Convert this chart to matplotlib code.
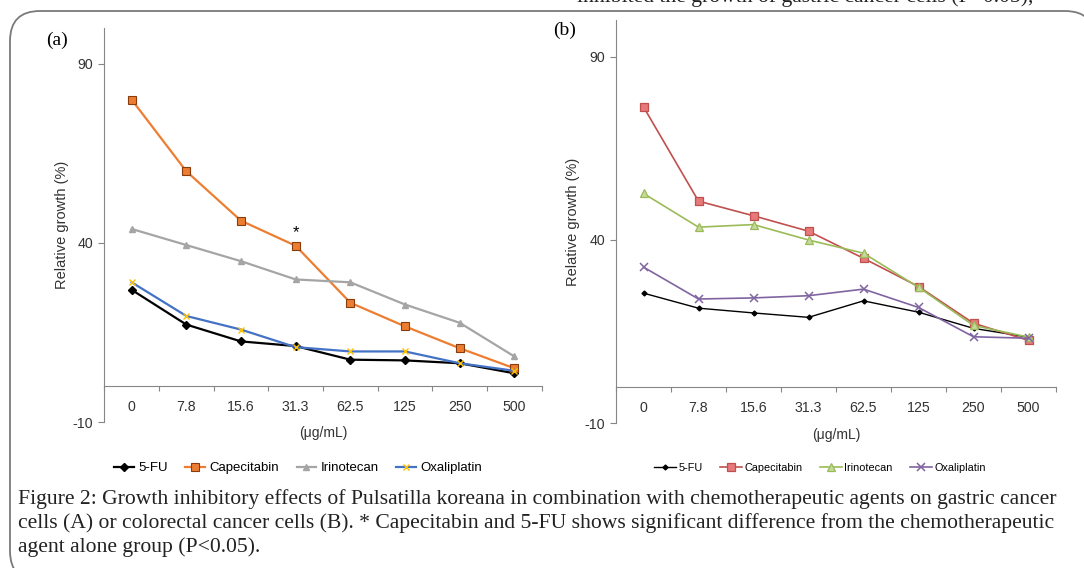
import matplotlib
matplotlib.use('Agg')
import matplotlib.pyplot as plt
from matplotlib.patches import FancyBboxPatch

# dose categories (x axis)
doses = ['0', '7.8', '15.6', '31.3', '62.5', '125', '250', '500']
series_names = ['5-FU', 'Capecitabin', 'Irinotecan', 'Oxaliplatin']

# panel (a): gastric cancer cells
a_5fu = [26.9, 17.2, 12.5, 11.2, 7.4, 7.2, 6.4, 3.6]
a_cape = [80.0, 60.0, 46.2, 39.2, 23.3, 16.7, 10.6, 5.0]
a_irino = [43.9, 39.4, 34.9, 29.8, 29.0, 22.8, 17.7, 8.3]
a_oxali = [29.0, 19.6, 15.8, 10.9, 9.7, 9.7, 6.4, 4.3]

# panel (b): colorectal cancer cells
b_5fu = [25.5, 21.4, 20.1, 18.9, 23.4, 20.3, 15.9, 13.5]
b_cape = [76.3, 50.6, 46.6, 42.4, 35.0, 27.3, 17.3, 12.6]
b_irino = [52.7, 43.5, 44.2, 40.0, 36.4, 27.1, 16.7, 13.5]
b_oxali = [32.6, 23.9, 24.2, 24.8, 26.6, 21.6, 13.6, 13.2]

yticks = [-10, 40, 90]
sig_index = 3  # 31.3 ug/mL, Capecitabin (a)

caption = [
    "Figure 2: Growth inhibitory effects of Pulsatilla koreana in combination with chemotherapeutic agents on gastric cancer",
    "cells (A) or colorectal cancer cells (B). * Capecitabin and 5-FU shows significant difference from the chemotherapeutic",
    "agent alone group (P<0.05).",
]
top_text = "inhibited the growth of gastric cancer cells (P<0.05),"

SANS = 'Liberation Sans'
SERIF = 'Liberation Serif'
W, H = 1084, 568

plt.rcParams['font.family'] = SANS
plt.rcParams['axes.unicode_minus'] = False

fig = plt.figure(figsize=(W / 100, H / 100), dpi=100)

# background layer in pixel coordinates: frame + caption
bg = fig.add_axes([0, 0, 1, 1], zorder=-1)
bg.set_xlim(0, W)
bg.set_ylim(H, 0)
bg.axis('off')
frame = FancyBboxPatch((10, 11), 1085, 570, boxstyle='round,pad=0,rounding_size=30',
                       facecolor='white', edgecolor='#7a7a7a', linewidth=1.3)
bg.add_patch(frame)
bg.text(577, 2, top_text, fontsize=15.6, family=SERIF, color='#222222', va='baseline', ha='left')
for i, line in enumerate(caption):
    bg.text(18, 499 + 24 * i, line, fontsize=15.6, family=SERIF, color='#222222',
            va='center', ha='left')
bg.text(46, 40, '(a)', fontsize=14, family=SERIF, va='center', ha='left')
bg.text(553, 30, '(b)', fontsize=14, family=SERIF, va='center', ha='left')


def style_axes(ax, xlab_y):
    x = range(len(doses))
    ax.set_xlim(-0.5, len(doses) - 0.5)
    ax.set_ylim(-10, 100)
    for s in ['top', 'right']:
        ax.spines[s].set_visible(False)
    ax.spines['left'].set_color('#868686')
    ax.spines['bottom'].set_color('#868686')
    ax.spines['bottom'].set_position(('data', 0))
    ax.set_yticks(yticks)
    ax.tick_params(axis='y', length=4, width=0.8, color='#868686', pad=4,
                   labelsize=10.2, labelcolor='#333333')
    ax.set_xticks(list(x))
    ax.set_xticklabels(doses, fontsize=10.2, color='#333333')
    ax.set_xticks([i + 0.5 for i in range(-1, len(doses))], minor=True)
    ax.tick_params(axis='x', which='major', length=0, pad=10)
    ax.tick_params(axis='x', which='minor', length=3.5, width=0.8, color='#868686', direction='out')
    ax.set_ylabel('Relative growth (%)', fontsize=10.5, color='#333333', labelpad=3)
    ax.text(0.5, xlab_y, '(μg/mL)', transform=ax.transAxes, fontsize=10,
            color='#333333', ha='center', va='center')
    ax.patch.set_alpha(0)


# ---- panel (a)
ax1 = fig.add_axes([104.3 / W, 1 - 422 / H, 437.4 / W, 394 / H])
x = list(range(len(doses)))
ax1.plot(x, a_5fu, color='black', lw=1.6, marker='D', ms=4.5, label=series_names[0])
ax1.plot(x, a_cape, color='#ED7D31', lw=1.6, marker='s', ms=5.5, mfc='#ED7D31',
         mec='#8a3d0c', mew=0.8, label=series_names[1])
ax1.plot(x, a_irino, color='#A5A5A5', lw=1.6, marker='^', ms=5, label=series_names[2])
ax1.plot(x, a_oxali, color='#4472C4', lw=1.6, marker='x', ms=5, mec='#FFC000', mew=1,
         label=series_names[3])
ax1.text(sig_index, a_cape[sig_index] + 3.7, '*', ha='center', va='center', fontsize=12)
style_axes(ax1, -10.5 / 394)
ax1.legend(loc='center', bbox_to_anchor=(298 / W, 1 - 468 / H), bbox_transform=fig.transFigure,
           ncol=4, frameon=False, fontsize=9.5, handlelength=1.5, handletextpad=0.3,
           columnspacing=1.35, borderpad=0)

# ---- panel (b)
ax2 = fig.add_axes([616 / W, 1 - 423.3 / H, 440 / W, 403.3 / H])
ax2.plot(x, b_5fu, color='black', lw=1.0, marker='D', ms=2.5, label=series_names[0])
ax2.plot(x, b_cape, color='#C0504D', lw=1.2, marker='s', ms=6, mfc='#E8797A',
         mec='#C0504D', mew=0.9, label=series_names[1])
ax2.plot(x, b_irino, color='#9BBB59', lw=1.2, marker='^', ms=6, mfc='#C3D99A',
         mec='#9BBB59', mew=0.9, label=series_names[2])
ax2.plot(x, b_oxali, color='#8064A2', lw=1.2, marker='x', ms=6, mew=1.1, label=series_names[3])
style_axes(ax2, -12 / 403.3)
ax2.legend(loc='center', bbox_to_anchor=(820 / W, 1 - 468 / H), bbox_transform=fig.transFigure,
           ncol=4, frameon=False, fontsize=7.8, handlelength=2.0, handletextpad=0.25,
           columnspacing=1.6, borderpad=0)

plt.savefig('out.png', dpi=100)
plt.close()
